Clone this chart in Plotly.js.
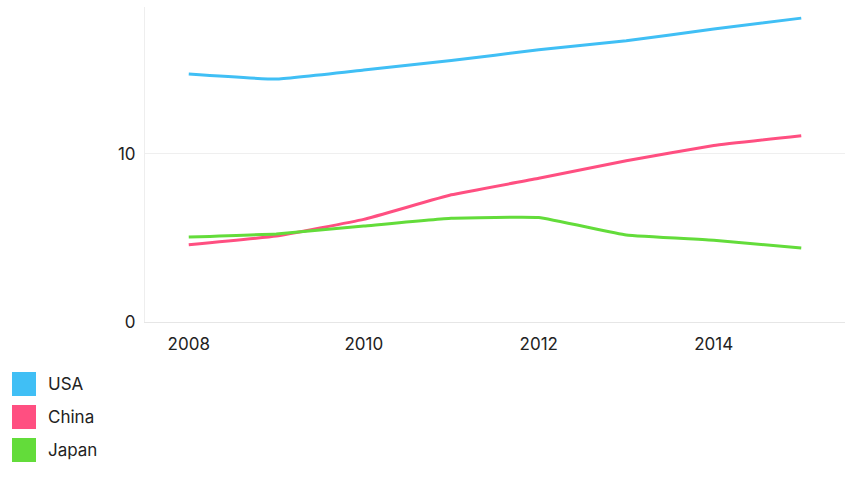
<!DOCTYPE html>
<html>
<head>
<meta charset="utf-8">
<script src="https://cdn.plot.ly/plotly-3.0.1.min.js"></script>
<style>html,body{margin:0;padding:0;background:#fff}#chart{width:852px;height:480px}</style>
</head>
<body>
<div id="chart"></div>
<script>
const years = [2008, 2009, 2010, 2011, 2012, 2013, 2014, 2015];
const usa   = [14.72, 14.42, 14.96, 15.52, 16.16, 16.69, 17.39, 18.04];
const china = [4.59, 5.10, 6.09, 7.55, 8.53, 9.57, 10.48, 11.06];
const japan = [5.04, 5.23, 5.70, 6.16, 6.20, 5.16, 4.85, 4.39];
const seriesNames = ["USA", "China", "Japan"];
const seriesValues = [usa, china, japan];
const colors = ["#40bff5", "#ff4f81", "#63dc3a"];

const traces = seriesValues.map((vals, i) => ({
  type: "scatter", mode: "lines", x: years, y: vals, name: seriesNames[i],
  line: {color: colors[i], width: 3, shape: "spline", smoothing: 0.3},
  showlegend: false, hoverinfo: "skip"
}));

const FONT = "Inter, 'Noto Sans', sans-serif";
const shapes = [], annotations = [];
seriesNames.forEach((n, i) => {
  const top = 372 + i * 33;
  shapes.push({type: "rect", xref: "paper", yref: "paper",
    x0: (12 - 145) / 700, x1: (36 - 145) / 700,
    y0: (322 - top) / 315, y1: (322 - top - 24) / 315,
    fillcolor: colors[i], line: {width: 0}});
  annotations.push({xref: "paper", yref: "paper", x: (46 - 145) / 700, y: (322 - top - 12) / 315,
    xanchor: "left", yanchor: "middle", text: n, showarrow: false,
    font: {size: 17, color: "#222", family: FONT}});
});

const layout = {
  width: 852, height: 480,
  margin: {l: 145, r: 7, t: 7, b: 158},
  paper_bgcolor: "#fff", plot_bgcolor: "#fff",
  font: {family: FONT, size: 17, color: "#222"},
  xaxis: {range: [2007.5, 2015.5], tickvals: [2008, 2010, 2012, 2014], ticktext: ["2008","2010","2012","2014"],
    showgrid: false, zeroline: false, showline: true, linecolor: "#e6e6e6", linewidth: 1,
    ticks: "", ticklen: 0, ticklabelstandoff: 7, tickfont: {size: 17, color: "#222"}, fixedrange: true},
  yaxis: {range: [0, 18.7], tickvals: [0, 10], ticktext: ["0", "10"], showgrid: true, gridcolor: "#efefef",
    zeroline: false, showline: true, linecolor: "#eeeeee", linewidth: 1, ticks: "", ticklen: 0,
    ticklabelstandoff: 5, tickfont: {size: 17, color: "#222"}, fixedrange: true},
  shapes: shapes, annotations: annotations, showlegend: false
};
Plotly.newPlot("chart", traces, layout, {displayModeBar: false, staticPlot: true});
</script>
</body>
</html>
